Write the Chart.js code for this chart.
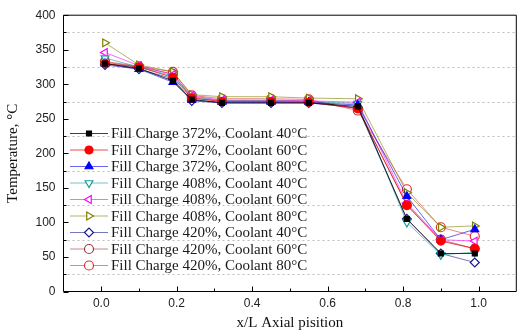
<!DOCTYPE html>
<html>
<head>
<meta charset="utf-8">
<script src="https://cdn.jsdelivr.net/npm/chart.js@4.4.0/dist/chart.umd.min.js"></script>
<style>
html, body { margin: 0; padding: 0; background: #fff; overflow: hidden; }
canvas { display: block; }
</style>
</head>
<body>
<canvas id="chart" width="522" height="334"></canvas>
<script>
// axial positions (x/L) of the thermocouples
const positions = [0.01, 0.1, 0.19, 0.24, 0.32, 0.45, 0.55, 0.68, 0.81, 0.9, 0.99];

const seriesLabels = [
  'Fill Charge 372%, Coolant 40°C',
  'Fill Charge 372%, Coolant 60°C',
  'Fill Charge 372%, Coolant 80°C',
  'Fill Charge 408%, Coolant 40°C',
  'Fill Charge 408%, Coolant 60°C',
  'Fill Charge 408%, Coolant 80°C',
  'Fill Charge 420%, Coolant 40°C',
  'Fill Charge 420%, Coolant 60°C',
  'Fill Charge 420%, Coolant 80°C'
];

// temperatures, °C
const fc372c40 = [330, 323, 305, 278, 273, 273, 273, 268, 105, 55, 55];
const fc372c60 = [330, 325, 310, 280, 275, 275, 274, 265, 125, 73, 62];
const fc372c80 = [330, 322, 303, 277, 274, 274, 274, 270, 138, 75, 90];
const fc408c40 = [338, 325, 312, 282, 276, 276, 275, 272, 100, 53, 57];
const fc408c60 = [346, 327, 314, 283, 277, 277, 276, 274, 128, 75, 73];
const fc408c80 = [360, 328, 318, 285, 282, 282, 280, 279, 143, 93, 95];
const fc420c40 = [328, 322, 308, 276, 273, 273, 273, 266, 105, 55, 42];
const fc420c60 = [332, 325, 315, 280, 276, 276, 276, 265, 125, 75, 62];
const fc420c80 = [333, 326, 318, 284, 279, 279, 278, 262, 148, 93, 80];

const xTickLabels = ['0.0', '0.2', '0.4', '0.6', '0.8', '1.0'];
const yTickLabels = ['0', '50', '100', '150', '200', '250', '300', '350', '400'];

const allSeries = [fc372c40, fc372c60, fc372c80, fc408c40, fc408c60, fc408c80, fc420c40, fc420c60, fc420c80];

// marker looks, Origin style
const looks = [
  { color: '#000000', line: 'rgba(0,0,0,0.75)',      style: 'rect',     rot: 0,   fill: true,  r: 3.5 },
  { color: '#ff0000', line: 'rgba(230,0,0,0.7)',     style: 'circle',   rot: 0,   fill: true,  r: 4 },
  { color: '#0000ff', line: 'rgba(0,0,230,0.6)',     style: 'triangle', rot: 0,   fill: true,  r: 4.5 },
  { color: '#1a9a9a', line: 'rgba(26,154,154,0.6)',  style: 'triangle', rot: 180, fill: false, r: 4.5 },
  { color: '#ff00ff', line: 'rgba(255,0,255,0.6)',   style: 'triangle', rot: -90, fill: false, r: 4.5 },
  { color: '#808000', line: 'rgba(128,128,0,0.6)',   style: 'triangle', rot: 90,  fill: false, r: 4.5 },
  { color: '#1a1a8c', line: 'rgba(26,26,140,0.6)',   style: 'rectRot',  rot: 0,   fill: false, r: 4.5 },
  { color: '#a03a3a', line: 'rgba(160,58,58,0.6)',   style: 'circle',   rot: 0,   fill: false, r: 4.5 },
  { color: '#e03030', line: 'rgba(224,48,48,0.6)',   style: 'circle',   rot: 0,   fill: false, r: 4.5 }
];

const datasets = allSeries.map((vals, i) => ({
  label: seriesLabels[i],
  data: vals.map((v, k) => ({ x: positions[k], y: v })),
  borderColor: looks[i].line,
  borderWidth: 1,
  pointStyle: looks[i].style,
  pointRotation: looks[i].rot,
  pointRadius: looks[i].r,
  pointBorderWidth: 1.2,
  pointBorderColor: looks[i].color,
  pointBackgroundColor: looks[i].fill ? looks[i].color : '#ffffff',
  tension: 0
}));

// axis lines, frame and inward ticks
const framePlugin = {
  id: 'frame',
  afterDraw(chart) {
    const { ctx, chartArea: a, scales: { x, y } } = chart;
    ctx.save();
    ctx.strokeStyle = '#000';
    ctx.lineWidth = 1;
    ctx.beginPath();
    ctx.moveTo(a.left, a.top); ctx.lineTo(a.right, a.top);
    ctx.moveTo(a.right, a.top); ctx.lineTo(a.right, a.bottom);
    ctx.moveTo(a.left, a.top); ctx.lineTo(a.left, a.bottom);
    ctx.moveTo(a.left, a.bottom); ctx.lineTo(a.right, a.bottom);
    for (let v = 0; v <= 400; v += 25) {
      const py = Math.round(y.getPixelForValue(v)) + 0.5;
      const len = v % 50 === 0 ? 5 : 3;
      ctx.moveTo(a.left, py); ctx.lineTo(a.left + len, py);
    }
    for (let k = 0; k <= 10; k++) {
      const px = Math.round(x.getPixelForValue(k / 10)) + 0.5;
      const len = k % 2 === 0 ? 5 : 3;
      ctx.moveTo(px, a.bottom); ctx.lineTo(px, a.bottom - len);
    }
    ctx.stroke();
    ctx.restore();
  }
};

// dotted grid at the odd 25s, drawn under the data
const gridPlugin = {
  id: 'dotGrid',
  beforeDatasetsDraw(chart) {
    const { ctx, chartArea: a, scales: { y } } = chart;
    ctx.save();
    ctx.strokeStyle = '#bdbdbd';
    ctx.lineWidth = 1;
    ctx.setLineDash([2, 3]);
    ctx.beginPath();
    for (let v = 25; v < 400; v += 50) {
      const py = Math.round(y.getPixelForValue(v)) + 0.5;
      ctx.moveTo(a.left + 4, py); ctx.lineTo(a.right, py);
    }
    ctx.stroke();
    ctx.restore();
  }
};

// legend drawn inside the plot, lower left
const legendPlugin = {
  id: 'innerLegend',
  afterDraw(chart) {
    const { ctx } = chart;
    ctx.save();
    chart.data.datasets.forEach((ds, i) => {
      const cy = 133.5 + i * 16.5;
      ctx.strokeStyle = looks[i].line;
      ctx.lineWidth = 1;
      ctx.beginPath();
      ctx.moveTo(70, cy); ctx.lineTo(108, cy);
      ctx.stroke();
      ctx.strokeStyle = looks[i].color;
      ctx.fillStyle = looks[i].fill ? looks[i].color : '#ffffff';
      ctx.lineWidth = 1.2;
      Chart.helpers.drawPoint(ctx, {
        pointStyle: looks[i].style,
        rotation: looks[i].rot,
        radius: looks[i].r,
        borderWidth: 1.2
      }, 89, cy);
      ctx.fillStyle = '#1a1a1a';
      ctx.font = '15px "Liberation Serif", "Times New Roman", serif';
      ctx.textBaseline = 'middle';
      ctx.textAlign = 'left';
      ctx.fillText(ds.label, 111, cy + 1);
    });
    ctx.restore();
  }
};

new Chart(document.getElementById('chart'), {
  type: 'line',
  data: { datasets },
  options: {
    responsive: false,
    animation: false,
    layout: { padding: { top: 11, right: 1.5, left: 0, bottom: 0 } },
    plugins: { legend: { display: false }, tooltip: { enabled: false } },
    scales: {
      x: {
        type: 'linear',
        min: -0.1,
        max: 1.1,
        afterFit(s) { s.height = 42.5; },
        grid: { display: false, drawTicks: false },
        border: { display: false },
        ticks: {
          autoSkip: false,
          maxRotation: 0,
          padding: 5,
          color: '#222',
          font: { family: '"Liberation Sans", Arial, sans-serif', size: 12 },
          callback: v => {
            const i = Math.round(v * 5);
            return Math.abs(v * 5 - i) < 1e-6 && i >= 0 && i < xTickLabels.length ? xTickLabels[i] : '';
          }
        },
        afterBuildTicks(s) {
          const t = [];
          for (let k = 0; k < xTickLabels.length; k++) t.push({ value: k * 0.2 });
          s.ticks = t;
        },
        title: {
          display: true,
          text: 'x/L Axial pisition',
          color: '#111',
          padding: { top: 0, bottom: 2 },
          font: { family: '"Liberation Serif", "Times New Roman", serif', size: 15 }
        }
      },
      y: {
        min: 0,
        max: 400,
        afterFit(s) { s.width = 63.5; },
        border: { display: false },
        grid: { display: false, drawTicks: false },
        ticks: {
          stepSize: 50,
          autoSkip: false,
          padding: 8,
          color: '#222',
          font: { family: '"Liberation Sans", Arial, sans-serif', size: 12 },
          callback: v => yTickLabels[v / 50]
        },
        title: {
          display: true,
          text: 'Temperature, °C',
          color: '#111',
          padding: { top: 4, bottom: 0 },
          font: { family: '"Liberation Serif", "Times New Roman", serif', size: 15 }
        }
      }
    }
  },
  plugins: [gridPlugin, framePlugin, legendPlugin]
});
</script>
</body>
</html>
